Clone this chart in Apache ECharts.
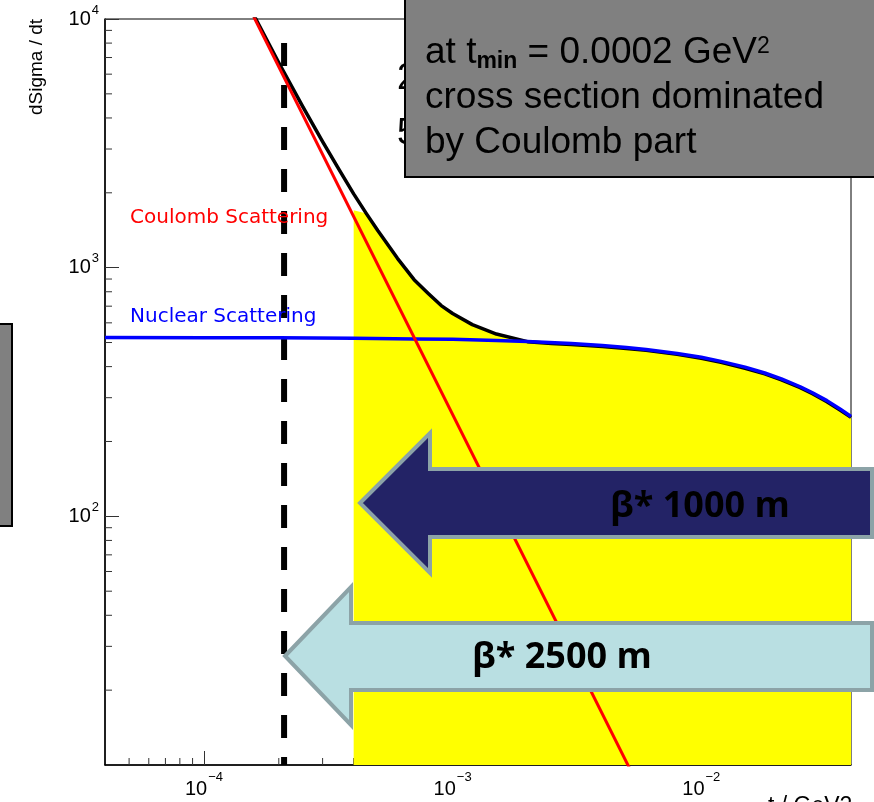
<!DOCTYPE html>
<html><head><meta charset="utf-8">
<script src="https://cdn.jsdelivr.net/npm/echarts@6/dist/echarts.min.js"></script>
<style>html,body{margin:0;padding:0;background:#fff;overflow:hidden}#c{width:874px;height:802px;}</style>
</head><body><div id="c"></div>
<script>
// ---- data ----
const xRange = [4e-5, 4e-2];           // t / GeV^2
const yRange = [10, 1e4];              // dSigma/dt
const tNuclear = [4e-5, 1e-4, 2e-4, 4e-4, 7e-4, 1e-3, 1.5e-3, 2e-3, 3e-3, 4e-3, 5e-3, 6e-3, 8e-3, 1e-2, 1.2e-2, 1.5e-2, 1.8e-2, 2.1e-2, 2.5e-2, 2.8e-2, 3.2e-2, 3.6e-2, 4e-2];
const sigmaNuclear = [524, 523, 522, 520, 517, 515, 510, 505, 496, 486, 477, 469, 452, 436, 420, 398, 377, 357, 332, 314, 292, 271, 252];
const tTotal = [1.55e-4, 1.6e-4, 2e-4, 2.5e-4, 3e-4, 3.5e-4, 4e-4, 4.5e-4, 5e-4, 6e-4, 7e-4, 8e-4, 9e-4, 1e-3, 1.2e-3, 1.5e-3, 2e-3, 2.5e-3, 3e-3, 4e-3, 5e-3, 6e-3, 8e-3, 1e-2, 1.2e-2, 1.5e-2, 1.8e-2, 2.1e-2, 2.5e-2, 2.8e-2, 3.2e-2, 3.6e-2, 4e-2];
const sigmaTotal = [10630, 10200, 6660, 4430, 3210, 2475, 1980, 1650, 1410, 1090, 895, 786, 704, 654, 590, 541, 504, 496, 491, 482, 473, 465, 448, 432, 416, 394, 374, 354, 329, 311, 289, 268, 250];
const tCoulomb = [1.4e-4, 5.2e-3];
const sigmaCoulomb = [13100, 9.5];
const tMinDashed = 2.1e-4;
const dashedSigma = [8000, 10];
const fillStartT = 4e-4;
const fillStartSigma = 1700;
const xMinorTicks = [5e-5, 6e-5, 7e-5, 8e-5, 9e-5, 2e-4, 3e-4, 4e-4, 5e-4, 6e-4, 7e-4, 8e-4, 9e-4, 2e-3, 3e-3, 4e-3, 5e-3, 6e-3, 7e-3, 8e-3, 9e-3, 2e-2, 3e-2];
const yMinorTicks = [20, 30, 40, 50, 60, 70, 80, 90, 200, 300, 400, 500, 600, 700, 800, 900, 2000, 3000, 4000, 5000, 6000, 7000, 8000, 9000];
const labelCoulomb = 'Coulomb Scattering';
const labelNuclear = 'Nuclear Scattering';
const arrowText1 = 'β* 1000 m';
const arrowText2 = 'β* 2500 m';
const yTitle = 'dSigma / dt';
const xTitle = 't / GeV2';

// ---- build ----
const zip = (a, b) => a.map((v, i) => [v, b[i]]);
const totalData = zip(tTotal, sigmaTotal);
const fillData = [[fillStartT, fillStartSigma]].concat(totalData.filter(p => p[0] > fillStartT));
const expOf = v => Math.round(Math.log10(v));
const FONT = '"Liberation Sans", Arial, sans-serif';

const chart = echarts.init(document.getElementById('c'), null, {renderer: 'canvas'});
const tickStyle = {stroke: '#333', lineWidth: 1};

chart.setOption({
  animation: false,
  backgroundColor: '#fff',
  grid: {left: 105, right: 23, top: 19, bottom: 37, show: true, borderColor: '#000', borderWidth: 1, backgroundColor: 'transparent'},
  xAxis: {
    type: 'log', logBase: 10, min: xRange[0], max: xRange[1],
    axisLine: {show: true, lineStyle: {color: '#000', width: 1.5}},
    axisTick: {show: true, inside: true, length: 14, lineStyle: {color: '#333', width: 1}},
    splitLine: {show: false}, minorTick: {show: false},
    axisLabel: {
      showMinLabel: false, showMaxLabel: false, margin: 5,
      formatter: v => '{b|10}{s|−' + Math.abs(expOf(v)) + '}',
      rich: {
        b: {fontSize: 20, fontFamily: FONT, color: '#000', lineHeight: 39},
        s: {fontSize: 13, fontFamily: FONT, color: '#000', verticalAlign: 'top', padding: [1, 0, 0, 1]}
      }
    }
  },
  yAxis: {
    type: 'log', logBase: 10, min: yRange[0], max: yRange[1],
    axisLine: {show: true, lineStyle: {color: '#000', width: 1.5}},
    axisTick: {show: true, inside: true, length: 14, lineStyle: {color: '#333', width: 1}},
    splitLine: {show: false}, minorTick: {show: false},
    axisLabel: {
      showMinLabel: false, margin: 6,
      formatter: v => '{b|10}{s|' + expOf(v) + '}',
      rich: {
        b: {fontSize: 20, fontFamily: FONT, color: '#000', lineHeight: 35},
        s: {fontSize: 13, fontFamily: FONT, color: '#000', verticalAlign: 'top', padding: [2, 0, 0, 1]}
      }
    }
  },
  series: [
    {
      type: 'custom', z: 1, clip: false, silent: true,
      data: xMinorTicks.map(v => [v, yRange[0]]),
      renderItem: (params, api) => {
        const p = api.coord([api.value(0), api.value(1)]);
        return {type: 'line', shape: {x1: p[0], y1: p[1], x2: p[0], y2: p[1] - 7}, style: tickStyle};
      }
    },
    {
      type: 'custom', z: 1, clip: false, silent: true,
      data: yMinorTicks.map(v => [xRange[0], v]),
      renderItem: (params, api) => {
        const p = api.coord([api.value(0), api.value(1)]);
        return {type: 'line', shape: {x1: p[0], y1: p[1], x2: p[0] + 7, y2: p[1]}, style: tickStyle};
      }
    },
    {
      name: 'fill', type: 'line', z: 2, data: fillData, symbol: 'none',
      lineStyle: {width: 0, color: '#FFFF00'},
      areaStyle: {color: '#FFFF00', opacity: 1, origin: 'start'}
    },
    {
      name: 'tmin', type: 'line', z: 3, data: dashedSigma.map(s => [tMinDashed, s]), symbol: 'none',
      lineStyle: {color: '#000', width: 6, type: [23, 19], cap: 'butt'}
    },
    {
      name: 'total', type: 'line', z: 4, data: totalData, symbol: 'none',
      lineStyle: {color: '#000', width: 3.5, join: 'round'}
    },
    {
      name: 'nuclear', type: 'line', z: 5, data: zip(tNuclear, sigmaNuclear), symbol: 'none',
      lineStyle: {color: '#0000FF', width: 3.5, join: 'round'}
    },
    {
      name: 'coulomb', type: 'line', z: 6, data: zip(tCoulomb, sigmaCoulomb), symbol: 'none',
      lineStyle: {color: '#FF0000', width: 3}
    }
  ],
  graphic: [
    {type: 'text', z: 50, x: 130, y: 218, style: {text: labelCoulomb, fill: '#FF0000', font: '20px "DejaVu Sans", sans-serif', verticalAlign: 'middle'}},
    {type: 'text', z: 50, x: 130, y: 317, style: {text: labelNuclear, fill: '#0000FF', font: '20px "DejaVu Sans", sans-serif', verticalAlign: 'middle'}},
    {type: 'text', z: 50, x: 37, y: 67, rotation: Math.PI / 2, style: {text: yTitle, fill: '#000', font: '19px ' + FONT, align: 'center', verticalAlign: 'middle'}},
    {type: 'text', z: 50, x: 768, y: 795, style: {text: xTitle, fill: '#000', font: '23px ' + FONT, verticalAlign: 'top'}},
    // text partially hidden behind the box
    {type: 'text', z: 90, x: 397, y: 97, style: {text: '2', fill: '#000', font: '36px ' + FONT, verticalAlign: 'bottom'}},
    {type: 'text', z: 90, x: 397, y: 152, style: {text: '5', fill: '#000', font: '36px ' + FONT, verticalAlign: 'bottom'}},
    // gray boxes
    {type: 'rect', z: 100, shape: {x: -5, y: 324, width: 17, height: 202}, style: {fill: '#808080', stroke: '#000', lineWidth: 2}},
    {type: 'rect', z: 100, shape: {x: 405, y: -5, width: 480, height: 182}, style: {fill: '#808080', stroke: '#000', lineWidth: 2}},
    {type: 'text', z: 101, x: 425, y: 30, style: {
      text: '{n|at t}{sub|min}{n| = 0.0002 GeV}{sup|2}\n{n|cross section dominated}\n{n|by Coulomb part}',
      verticalAlign: 'top',
      rich: {
        n: {fontSize: 37, fontFamily: FONT, fill: '#000', lineHeight: 45},
        sub: {fontSize: 23, fontFamily: FONT, fontWeight: 'bold', fill: '#000', lineHeight: 23, verticalAlign: 'bottom', padding: [0, 0, 2, 0]},
        sup: {fontSize: 23, fontFamily: FONT, fill: '#000', lineHeight: 23, verticalAlign: 'top', padding: [5, 0, 0, 0]}
      }
    }},
    // arrows
    {type: 'polygon', z: 100, shape: {points: [[360, 503], [430, 433], [430, 469], [872, 469], [872, 537], [430, 537], [430, 573]]}, style: {fill: '#232366', stroke: '#8CA3A7', lineWidth: 4}},
    {type: 'text', z: 101, x: 610, y: 507, style: {text: arrowText1, fill: '#000', font: 'bold 36px "Open Sans", sans-serif', verticalAlign: 'middle'}},
    {type: 'polygon', z: 100, shape: {points: [[285, 656], [351, 587], [351, 623], [872, 623], [872, 690], [351, 690], [351, 725]]}, style: {fill: '#B9DFE2', stroke: '#8CA3A7', lineWidth: 4}},
    {type: 'text', z: 101, x: 472, y: 658, style: {text: arrowText2, fill: '#000', font: 'bold 36px "Open Sans", sans-serif', verticalAlign: 'middle'}}
  ]
});
</script></body></html>
